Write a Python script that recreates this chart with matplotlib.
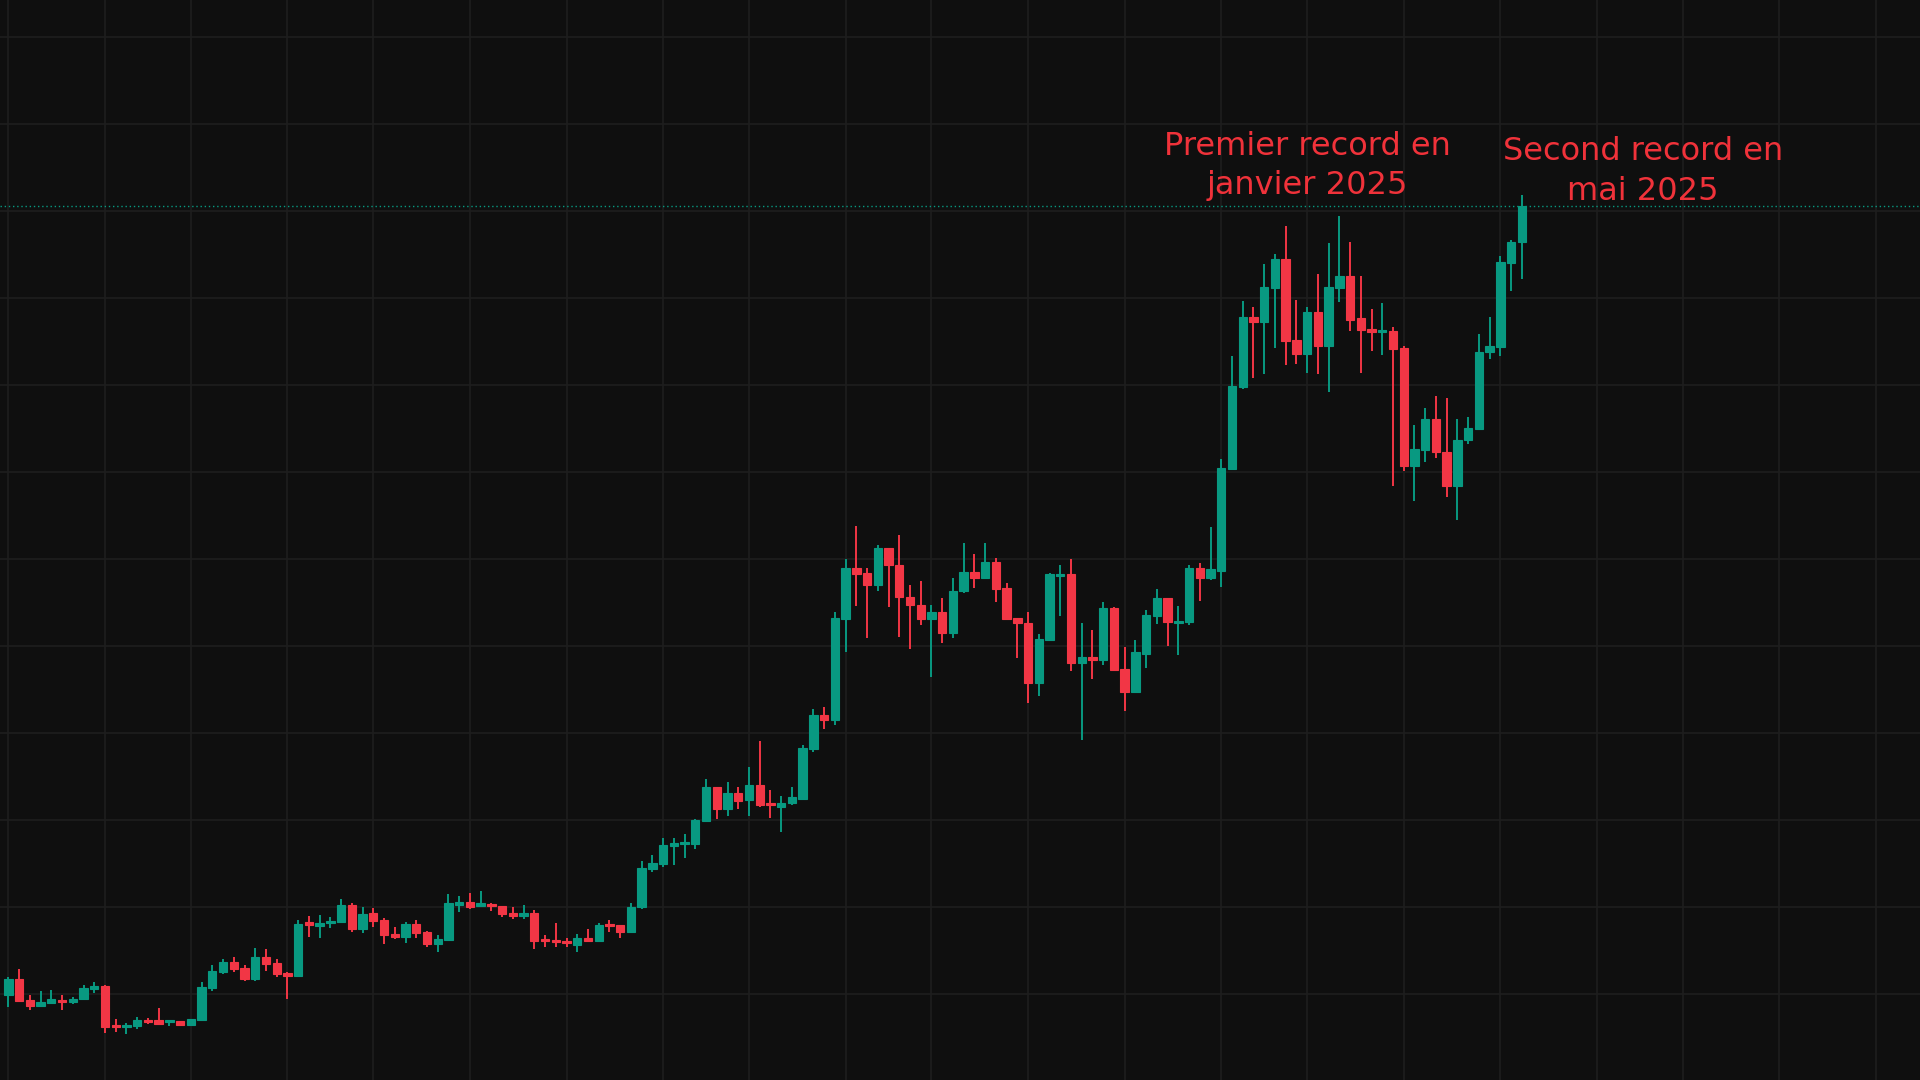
import matplotlib
matplotlib.use("Agg")
import matplotlib.pyplot as plt
from matplotlib.patches import Rectangle

# Weekly candles (prices in thousands of USD)
opens = [19.9,21.8,19.3,18.6,19.0,19.3,19.1,19.4,20.6,20.9,16.3,16.2,16.3,17.0,17.0,16.8,16.9,16.5,17.0,20.7,
         22.6,23.7,23.0,21.7,24.3,23.6,22.4,22.1,28.2,27.8,28.2,28.3,30.3,27.5,29.3,28.5,26.9,26.6,28.1,27.1,
         25.8,26.2,30.3,30.6,30.2,30.3,30.2,29.3,29.0,29.3,26.2,26.1,26.1,25.7,26.5,26.1,28.0,28.0,27.1,30.0,
         34.4,35.0,37.0,37.3,37.3,39.9,43.8,41.3,43.1,42.3,44.0,41.9,41.5,42.0,42.5,48.2,52.1,51.5,63.1,69.0,
         68.4,67.1,71.3,69.4,65.7,64.8,63.1,64.0,61.5,66.3,68.5,67.8,69.7,66.7,63.2,62.7,55.8,60.7,68.1,68.3,
         58.1,58.8,58.4,64.4,57.4,54.7,59.1,63.5,65.6,62.7,62.8,69.0,67.8,68.7,80.4,89.8,97.9,97.3,101.2,104.5,
         95.2,93.6,98.4,94.5,101.2,102.6,97.7,96.5,96.1,96.3,94.3,80.7,82.6,86.1,82.3,78.4,83.7,85.0,93.8,94.4,
         104.1,106.5]
highs = [22.0,22.9,19.9,20.4,20.5,19.9,19.7,21.1,21.4,21.1,17.2,16.7,17.4,17.3,18.4,17.0,16.9,17.2,21.4,23.4,
         24.0,24.3,23.4,25.3,25.2,24.0,22.6,28.5,29.0,29.1,28.9,31.0,30.5,30.0,29.9,28.8,27.7,28.3,28.5,27.3,
         26.8,31.5,31.3,31.6,31.9,30.5,30.2,30.0,30.3,29.7,26.8,28.2,26.5,26.9,27.5,28.2,28.5,28.0,30.5,35.3,
         36.0,38.0,38.0,38.4,40.2,44.7,43.8,44.4,43.8,46.1,49.1,43.5,42.8,43.8,48.6,52.8,53.0,64.0,70.0,73.8,
         69.0,71.7,71.3,72.8,67.0,67.5,64.8,65.5,67.8,71.9,70.6,71.9,70.1,67.3,63.2,63.9,61.4,68.4,69.4,70.0,
         62.7,61.9,65.1,64.5,59.9,60.7,64.2,66.6,65.6,64.6,69.4,69.6,73.7,81.5,93.4,99.7,99.0,103.9,105.1,108.3,
         99.8,99.0,102.8,106.4,109.5,106.5,102.6,98.8,99.5,96.7,94.5,85.4,87.4,88.8,88.6,86.1,86.4,95.9,97.9,104.9,
         106.7,111.9]
lows = [18.5,19.2,18.2,18.5,18.9,18.2,18.9,19.3,20.1,15.6,15.7,15.4,16.0,16.6,16.6,16.4,16.3,16.4,17.0,20.4,
        22.3,22.6,21.5,21.5,22.7,22.0,19.5,22.0,26.6,26.5,27.6,28.2,27.1,27.0,27.7,25.8,26.3,25.9,26.5,25.4,
        24.8,26.2,29.4,29.8,30.0,29.6,28.9,28.7,28.7,25.2,25.4,25.4,25.4,24.9,26.1,26.1,27.2,26.5,27.1,29.8,
        34.1,34.6,34.8,35.7,36.7,39.9,40.2,40.5,41.3,40.5,41.5,40.3,38.6,41.8,42.3,47.8,50.5,51.0,59.3,64.6,
        60.9,66.4,64.5,61.1,59.7,62.5,56.5,60.4,60.9,66.1,66.7,67.8,65.1,63.1,58.6,53.5,54.3,60.7,63.5,57.2,
        49.2,56.2,57.9,57.3,52.6,54.6,57.5,62.6,60.0,59.0,62.5,65.2,67.6,66.8,80.4,89.6,90.8,91.3,94.3,92.3,
        92.5,91.4,91.3,89.2,99.6,96.3,91.4,94.0,93.5,78.4,80.1,76.7,81.2,81.7,77.2,74.5,83.2,85.0,93.0,93.4,
        100.9,102.2]
closes = [21.8,19.2,18.6,19.1,19.5,19.1,19.5,20.7,20.9,16.2,16.2,16.5,17.0,16.8,16.6,16.9,16.5,17.2,20.8,22.7,
          23.7,22.9,21.7,24.3,23.5,22.3,22.1,28.1,28.0,28.2,28.4,30.3,27.5,29.2,28.4,26.8,26.6,28.1,27.0,25.8,
          26.3,30.5,30.6,30.0,30.3,30.1,29.2,29.0,29.3,26.1,26.1,26.0,25.9,26.5,26.1,28.0,27.8,27.1,30.0,34.5,
          35.1,37.1,37.4,37.4,40.0,43.8,41.3,43.1,42.2,44.0,41.7,41.7,42.0,42.7,48.3,52.1,51.5,63.2,69.0,68.3,
          67.1,71.3,69.4,65.7,64.8,63.1,64.0,61.5,66.4,68.5,67.8,69.7,66.6,63.1,62.7,55.8,60.8,68.3,68.2,58.1,
          58.8,58.4,64.4,57.3,54.8,59.3,63.6,65.6,62.8,62.9,69.0,67.8,68.9,80.5,89.9,97.9,97.3,101.3,104.5,95.1,
          93.6,98.4,94.5,101.3,102.6,97.5,96.4,96.1,96.3,94.2,80.7,82.7,86.1,82.3,78.4,83.7,85.1,93.8,94.5,104.2,
          106.5,110.6]
month_grid = [0, 9, 17, 26, 34, 43, 52, 61, 69, 78, 86, 95, 104, 113, 121, 130, 139, 148, 156, 165, 174]
price_grid = [20, 30, 40, 50, 60, 70, 80, 90, 100, 110, 120, 130]
annotations = [("Premier record en\njanvier 2025", 121.0, 115.2),
               ("Second record en\nmai 2025", 152.3, 114.6)]

UP, DOWN = "#089981", "#F23645"
BG = "#0f0f0f"
GRID = "#1e1e1e"

fig = plt.figure(figsize=(19.2, 10.8), dpi=100, facecolor=BG)
ax = fig.add_axes([0, 0, 1, 1])
ax.set_facecolor(BG)

for g in month_grid:
    ax.axvline(g, color=GRID, lw=1.2, zorder=0)
for g in price_grid:
    ax.axhline(g, color=GRID, lw=1.2, zorder=0)

w = 0.78
for i, (o, h, l, c) in enumerate(zip(opens, highs, lows, closes)):
    col = UP if c >= o else DOWN
    ax.vlines(i, l, h, color=col, lw=1.4, zorder=2)
    bottom = min(o, c)
    height = max(abs(c - o), 0.25)
    ax.add_patch(Rectangle((i - w / 2, bottom), w, height, facecolor=col,
                           edgecolor=col, lw=0.8, zorder=3))

ax.axhline(closes[-1], color=UP, lw=1.0, ls=(0, (1, 2)), zorder=1)

for txt, x, y in annotations:
    ax.text(x, y, txt, color="#F0323A", fontsize=23, ha="center", va="center",
            linespacing=1.35, zorder=5)

ax.set_xlim(-0.78, 178.1)
ax.set_ylim(10.14, 134.3)
ax.set_xticks([]); ax.set_yticks([])
for s in ax.spines.values():
    s.set_visible(False)

fig.savefig("out.png", dpi=100, facecolor=BG)
